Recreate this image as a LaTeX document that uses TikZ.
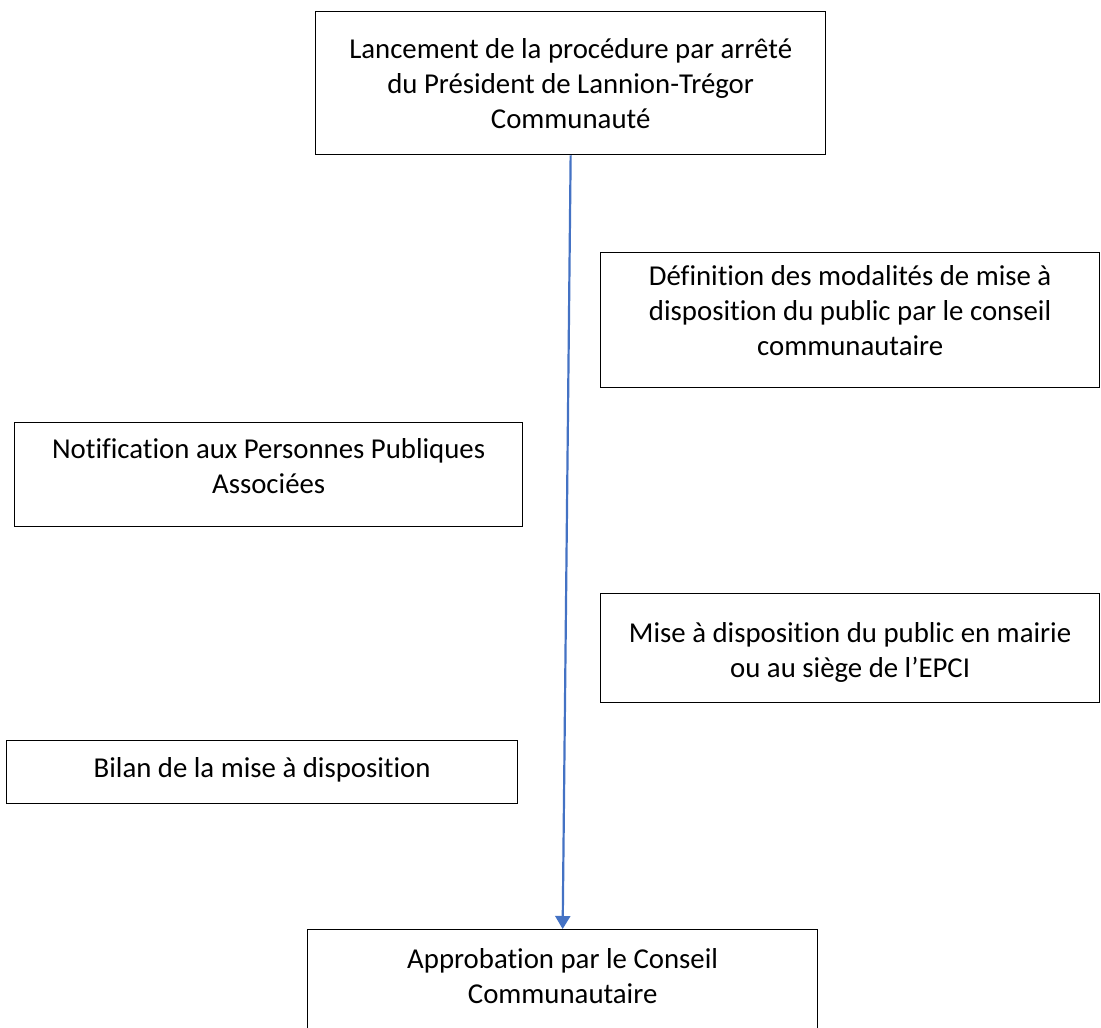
\documentclass[tikz,border=0pt]{standalone}
\usepackage{fontspec}
\setmainfont{Carlito}[Ligatures=NoCommon]
\usetikzlibrary{arrows.meta}
\newcommand{\flowtext}[4]{\parbox[c][#2][t]{#1}{\centering\vspace*{#3}#4}}
\definecolor{arrowblue}{HTML}{4472C4}
\tikzset{
  x=1pt, y=1pt,
  flowbox/.style={draw=black, line width=1.3pt, inner sep=0pt, anchor=north west,
    font=\fontsize{28.8}{35}\selectfont},
  flowarrow/.style={draw=arrowblue, line width=2.2pt, -{Triangle[width=15pt,length=13pt]}}
}
\begin{document}
\begin{tikzpicture}
\useasboundingbox (0,0) rectangle (1101,-1028);
\clip (0,0) rectangle (1101,-1028);
\fill[white] (0,0) rectangle (1101,-1028);

\node[flowbox] (top) at (315,-11) {\flowtext{510pt}{143pt}{22.5pt}{\strut Lancement de la procédure par arrêté\\\strut du Président de Lannion-Trégor\\\strut Communauté}};

\node[flowbox] (def) at (600,-252) {\flowtext{499pt}{135pt}{8pt}{\strut Définition des modalités de mise à\\\strut disposition du public par le conseil\\\strut communautaire}};

\node[flowbox] (notif) at (14,-422) {\flowtext{508pt}{104pt}{11.5pt}{\strut Notification aux Personnes Publiques\\\strut Associées}};

\node[flowbox] (mise) at (600,-593) {\flowtext{499pt}{109pt}{24.5pt}{\strut Mise à disposition du public en mairie\\\strut ou au siège de l’EPCI}};

\node[flowbox] (bilan) at (6,-740) {\flowtext{511pt}{63pt}{12.5pt}{\strut Bilan de la mise à disposition}};

\node[flowbox] (appro) at (307,-929) {\flowtext{510pt}{143pt}{14.5pt}{\strut Approbation par le Conseil\\\strut Communautaire}};

\draw[flowarrow] (top.south) -- (appro.north);
\end{tikzpicture}
\end{document}
